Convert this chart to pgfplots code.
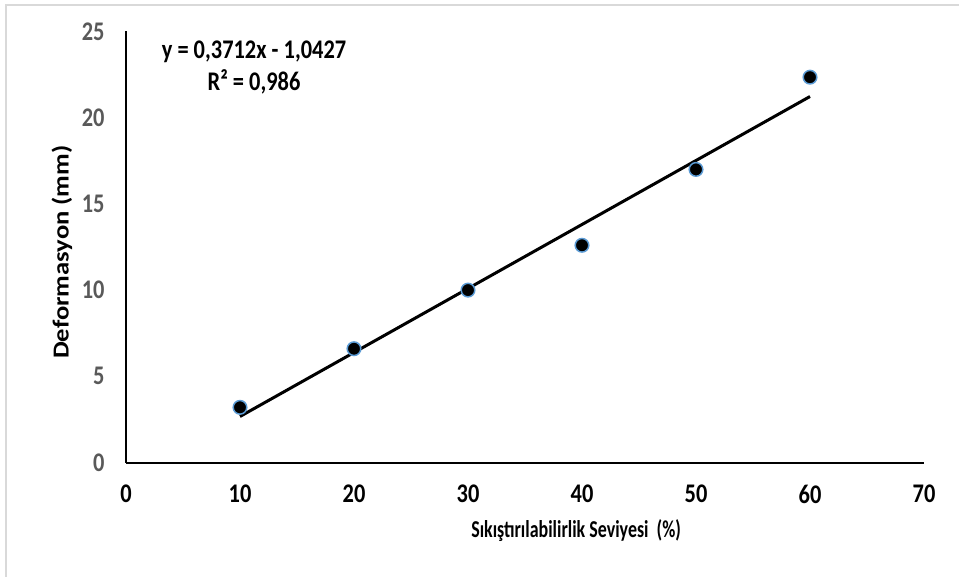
\documentclass[border=0pt]{standalone}
\usepackage{pgfplots}
\pgfplotsset{compat=1.18}
\usepackage{fontspec}
\setmainfont{Carlito}
\usepackage{graphicx}
\definecolor{tickgray}{HTML}{595959}
\definecolor{mkblue}{HTML}{5B9BD5}
\definecolor{bordergray}{HTML}{D9D9D9}
\begin{document}
\begin{tikzpicture}
\begin{axis}[
  at={(0,0)}, anchor=origin,
  scale only axis,
  width=798bp, height=431bp,
  xmin=0, xmax=70, ymin=0, ymax=25,
  axis x line=bottom, axis y line=left,
  axis line style={black, line width=2bp, -},
  xtick={0,10,20,30,40,50,60,70},
  ytick={0,5,10,15,20,25},
  major tick length=0pt,
  /pgf/number format/assume math mode=true,
  xticklabel={\scalebox{1}[1.2]{\pgfmathprintnumber{\tick}}},
  yticklabel={\scalebox{1}[1.2]{\pgfmathprintnumber{\tick}}},
  ticklabel style={font=\bfseries\fontsize{22.5}{26}\selectfont},
  yticklabel style={text=tickgray, xshift=-18bp},
  xticklabel style={text=black, yshift=-19bp},
  xlabel={\scalebox{1}[1.35]{\bfseries\fontsize{18}{22}\selectfont Sıkıştırılabilirlik Seviyesi\ \ (\%)}},
  xlabel style={at={(axis description cs:0.564,0)}, anchor=center, yshift=-68.5bp},
  ylabel={\scalebox{1.16}[1]{\bfseries\fontsize{23}{27}\selectfont Deformasyon (mm)}},
  ylabel style={at={(axis description cs:-0.0802,0.488)}, anchor=center},
  clip=false,
]
\addplot[black, line width=3bp, forget plot] coordinates {(10,2.6693) (60,21.2293)};
\addplot[only marks, mark=*, mark size=6.8bp, mark options={fill=black, draw=mkblue, line width=1.5bp}]
  coordinates {(10,3.2) (20,6.6) (30,10.0) (40,12.6) (50,17.0) (60,22.35)};
\node[align=center, text=black] at (axis cs:11.23,22.9)
  {\scalebox{1}[1.2]{\bfseries\fontsize{22.5}{31}\selectfont y = 0,3712x - 1,0427}\\[6bp]
   \scalebox{1}[1.2]{\bfseries\fontsize{22.5}{31}\selectfont R² = 0,986}};
\end{axis}
\path[use as bounding box] (-126bp,-114.5bp) rectangle (833bp,462.5bp);
\draw[bordergray, line width=1.5bp] (-120bp,-114.5bp) -- (-120bp,457.5bp) -- (833bp,457.5bp);
\end{tikzpicture}
\end{document}
